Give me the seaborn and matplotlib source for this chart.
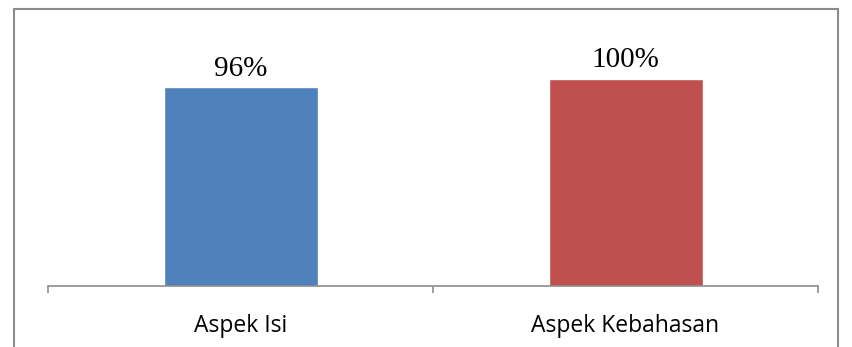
import matplotlib
matplotlib.use("Agg")
import matplotlib.pyplot as plt
import seaborn as sns
import pandas as pd
from matplotlib.patches import Rectangle

# data
categories = ["Aspek Isi", "Aspek Kebahasan"]
values = [96, 100]
labels = ["96%", "100%"]
colors = ["#4F81BD", "#C0504D"]

df = pd.DataFrame({"aspek": categories, "nilai": values})

sns.set_style("white")

fig = plt.figure(figsize=(8.52, 3.47), dpi=100)
W, H = 852, 347

# outer chart border (bottom edge falls outside the image)
fig.patches.append(Rectangle((14 / W, -0.1), (838 - 14) / W, 1.1 - 9 / H,
                             transform=fig.transFigure, fill=False,
                             edgecolor="#8c8c8c", linewidth=1.5))

ax = fig.add_axes([48 / W, (H - 286) / H, 770 / W, 256 / H])
sns.barplot(data=df, x="aspek", y="nilai", hue="aspek", palette=colors,
            width=0.4, legend=False, saturation=1, ax=ax)

ax.set_xlim(-0.5, 1.5)
ax.set_ylim(0, 100 * 256 / 207)

for i, (v, lab) in enumerate(zip(values, labels)):
    ax.annotate(lab, (i, v), xytext=(0, 4), textcoords="offset points",
                ha="center", va="bottom", fontsize=21,
                family="Liberation Serif", color="black")

for s in ["top", "right", "left"]:
    ax.spines[s].set_visible(False)
ax.spines["bottom"].set_color("#8c8c8c")
ax.spines["bottom"].set_linewidth(1.2)

ax.set_yticks([])
ax.set_xlabel("")
ax.set_ylabel("")
ax.set_xticks(range(len(categories)))
ax.set_xticklabels(categories, fontsize=16.5, family="Open Sans", color="black")
ax.tick_params(axis="x", which="major", bottom=False, length=0, pad=20)
ax.set_xticks([-0.5, 0.5, 1.5], minor=True)
ax.tick_params(axis="x", which="minor", bottom=True, direction="out",
               length=5, color="#8c8c8c", width=1.2)

fig.savefig("out.png", dpi=100)
